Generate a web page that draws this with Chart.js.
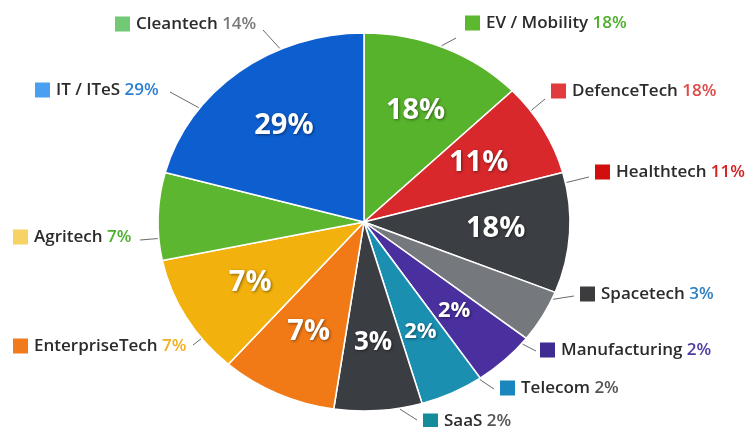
<!DOCTYPE html>
<html>
<head>
<meta charset="utf-8">
<script src="https://cdn.jsdelivr.net/npm/chart.js@4.4.0/dist/chart.umd.min.js"></script>
<style>
  html, body { margin: 0; padding: 0; background: #fff; }
  #wrap { width: 750px; height: 427px; }
</style>
</head>
<body>
<div id="wrap"><canvas id="myChart" width="750" height="427"></canvas></div>
<script>
// slices, clockwise from 12 o'clock
var categories = ['EV / Mobility', 'DefenceTech', 'Healthtech', 'Spacetech', 'Manufacturing', 'Telecom', 'SaaS', 'EnterpriseTech', 'Agritech', 'Cleantech', 'IT / ITeS'];
var shares = [12.8, 8.0, 10.3, 4.5, 4.9, 5.0, 6.9, 9.1, 10.3, 7.5, 20.8];
var insideLabels = ['18%', '11%', '18%', '', '2%', '2%', '3%', '7%', '7%', '', '29%'];
var calloutPcts = ['18%', '18%', '11%', '3%', '2%', '2%', '2%', '7%', '7%', '14%', '29%'];

var sliceColors = ['#58b32c', '#d8282b', '#3b3e43', '#75787d', '#4a2f9e', '#1a8fb0', '#3a3d42', '#f17a17', '#f2b10d', '#5db62f', '#0d5ecf'];
var squareColors = ['#5cb82e', '#e23b3b', '#d10f0f', '#3c3c3e', '#3f2b92', '#1b86bd', '#148c9c', '#f07a1c', '#f7d264', '#72c874', '#4b9ff0'];
var pctColors = ['#4fae2c', '#e14848', '#d42222', '#2f7fc2', '#4e3aa0', '#555555', '#555555', '#f0b020', '#4caf2f', '#7a7a7a', '#2b7fd2'];

// where the callouts sit (square left, text middle), leader start, and angle on the rim
var calloutLayout = [
    { x: 465, y: 23, sx: 456, sy: 38, angle: 22 },
    { x: 551, y: 91, sx: 545, sy: 99, angle: 54 },
    { x: 595, y: 172, sx: 589, sy: 177, angle: 78 },
    { x: 580, y: 294, sx: 574, sy: 296, angle: 114 },
    { x: 540, y: 350, sx: 536, sy: 351, angle: 130 },
    { x: 500, y: 388, sx: 494, sy: 389, angle: 146 },
    { x: 423, y: 421, sx: 417, sy: 420, angle: 170 },
    { x: 13, y: 346, sx: 193, sy: 345, angle: 232 },
    { x: 13, y: 237, sx: 140, sy: 240, angle: 265 },
    { x: 115, y: 24, sx: 263, sy: 30, angle: 336 },
    { x: 35, y: 90, sx: 170, sy: 92, angle: 307 }
];

// the pie in the picture is slightly oval
var CX = 364, CY = 222, RX = 206, RY = 189;

var ovalPie = {
    id: 'ovalPie',
    beforeDatasetsDraw: function (chart) {
        var a = chart.getDatasetMeta(0).data[0];
        var ctx = chart.ctx;
        ctx.save();
        ctx.translate(CX, CY);
        ctx.scale(RX / a.outerRadius, RY / a.outerRadius);
        ctx.translate(-a.x, -a.y);
    },
    afterDatasetsDraw: function (chart) {
        var ctx = chart.ctx;
        ctx.restore();
        var arcs = chart.getDatasetMeta(0).data;

        // values inside the slices
        ctx.save();
        ctx.textAlign = 'center';
        ctx.textBaseline = 'middle';
        ctx.fillStyle = '#fff';
        ctx.shadowColor = 'rgba(0,0,0,0.45)';
        ctx.shadowBlur = 3;
        ctx.shadowOffsetX = 1;
        ctx.shadowOffsetY = 1;
        arcs.forEach(function (arc, i) {
            var txt = insideLabels[i];
            if (!txt) return;
            var mid = (arc.startAngle + arc.endAngle) / 2;
            var x = CX + RX * 0.64 * Math.cos(mid);
            var y = CY + RY * 0.64 * Math.sin(mid);
            var size = txt === '2%' ? 22 : (txt === '3%' ? 26 : 29);
            ctx.font = '700 ' + size + 'px "Open Sans"';
            ctx.fillText(txt, x, y);
        });
        ctx.restore();

        // callouts with leader lines
        ctx.save();
        ctx.textBaseline = 'middle';
        ctx.font = '600 17px "Open Sans"';
        categories.forEach(function (name, i) {
            var L = calloutLayout[i];
            var t = L.angle * Math.PI / 180;
            var ex = CX + (RX + 1) * Math.sin(t);
            var ey = CY - (RY + 1) * Math.cos(t);
            ctx.strokeStyle = '#6a6a6a';
            ctx.lineWidth = 1;
            ctx.beginPath();
            ctx.moveTo(L.sx, L.sy);
            ctx.lineTo(ex, ey);
            ctx.stroke();

            ctx.fillStyle = squareColors[i];
            ctx.fillRect(L.x, L.y - 7.5, 15, 15);
            ctx.fillStyle = '#2b2b2b';
            ctx.textAlign = 'left';
            ctx.fillText(name, L.x + 21, L.y);
            var w = ctx.measureText(name + ' ').width;
            ctx.fillStyle = pctColors[i];
            ctx.fillText(calloutPcts[i], L.x + 21 + w, L.y);
        });
        ctx.restore();
    }
};

var ctx = document.getElementById('myChart').getContext('2d');
var myChart = new Chart(ctx, {
    type: 'pie',
    data: {
        labels: categories,
        datasets: [{
            data: shares,
            backgroundColor: sliceColors,
            borderColor: '#ffffff',
            borderWidth: 1.5
        }]
    },
    options: {
        responsive: false,
        animation: false,
        layout: {
            padding: { left: 167, right: 189, top: 25, bottom: 8 }
        },
        plugins: {
            legend: { display: false },
            tooltip: { enabled: false }
        }
    },
    plugins: [ovalPie]
});
</script>
</body>
</html>
